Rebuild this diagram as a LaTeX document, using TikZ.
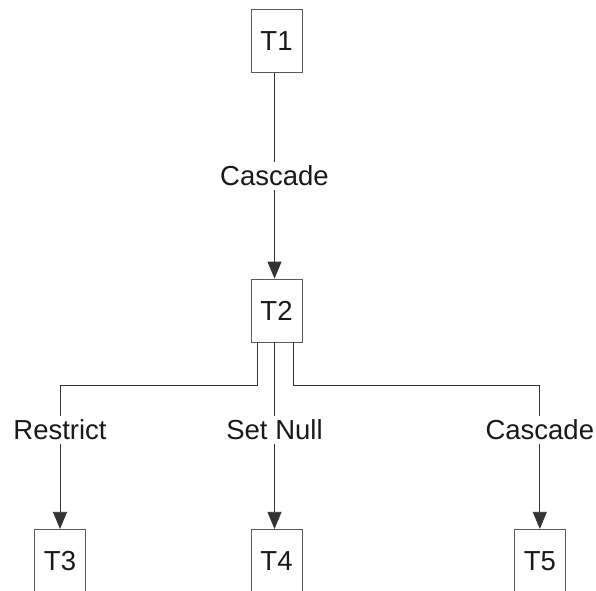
\documentclass[tikz,border=0pt]{standalone}
\usepackage{fontspec}
\setmainfont{Liberation Sans}
\usetikzlibrary{arrows.meta}

\begin{document}
\begin{tikzpicture}[x=1pt, y=1pt, font=\fontsize{27.5}{33}\selectfont,
        conn/.style={draw=black!80, line width=0.8pt, -{Triangle[length=17pt, width=14pt]}},
        lbl/.style={fill=white, inner sep=4pt, text=black!90}]
    \tikzstyle{table}=[draw=black!65, line width=0.8pt, minimum width=51pt, minimum height=63pt, inner sep=0pt, text=black!90]
    \useasboundingbox (0,0) rectangle (596,590);
    % Root table
    \node[table] (t1) at (276.5,549.3) {T1};
    % Level 1
    \node[table] (t2) at (276.5,279.5) {T2};
    % Level 2
    \node[table] (t3) at (60,29.2) {T3};
    \node[table] (t4) at (276.5,29.2) {T4};
    \node[table] (t5) at (539.8,29.2) {T5};
    % Bus corners
    \coordinate (j3) at (60,204.3);
    \coordinate (j5) at (539.8,204.3);
    % Connectors
    \draw[conn] ([xshift=-2pt]t1.south) -- node[lbl] {Cascade} ([xshift=-2pt]t2.north);
    \draw[conn] ([xshift=-19pt]t2.south) |- (j3) -- node[lbl, pos=.31] {Restrict} (t3);
    \draw[conn] ([xshift=-2pt]t2.south) -- node[lbl, pos=.47] {Set Null} ([xshift=-2pt]t4.north);
    \draw[conn] ([xshift=17pt]t2.south) |- (j5) -- node[lbl, pos=.31] {Cascade} (t5);
\end{tikzpicture}
\end{document}
